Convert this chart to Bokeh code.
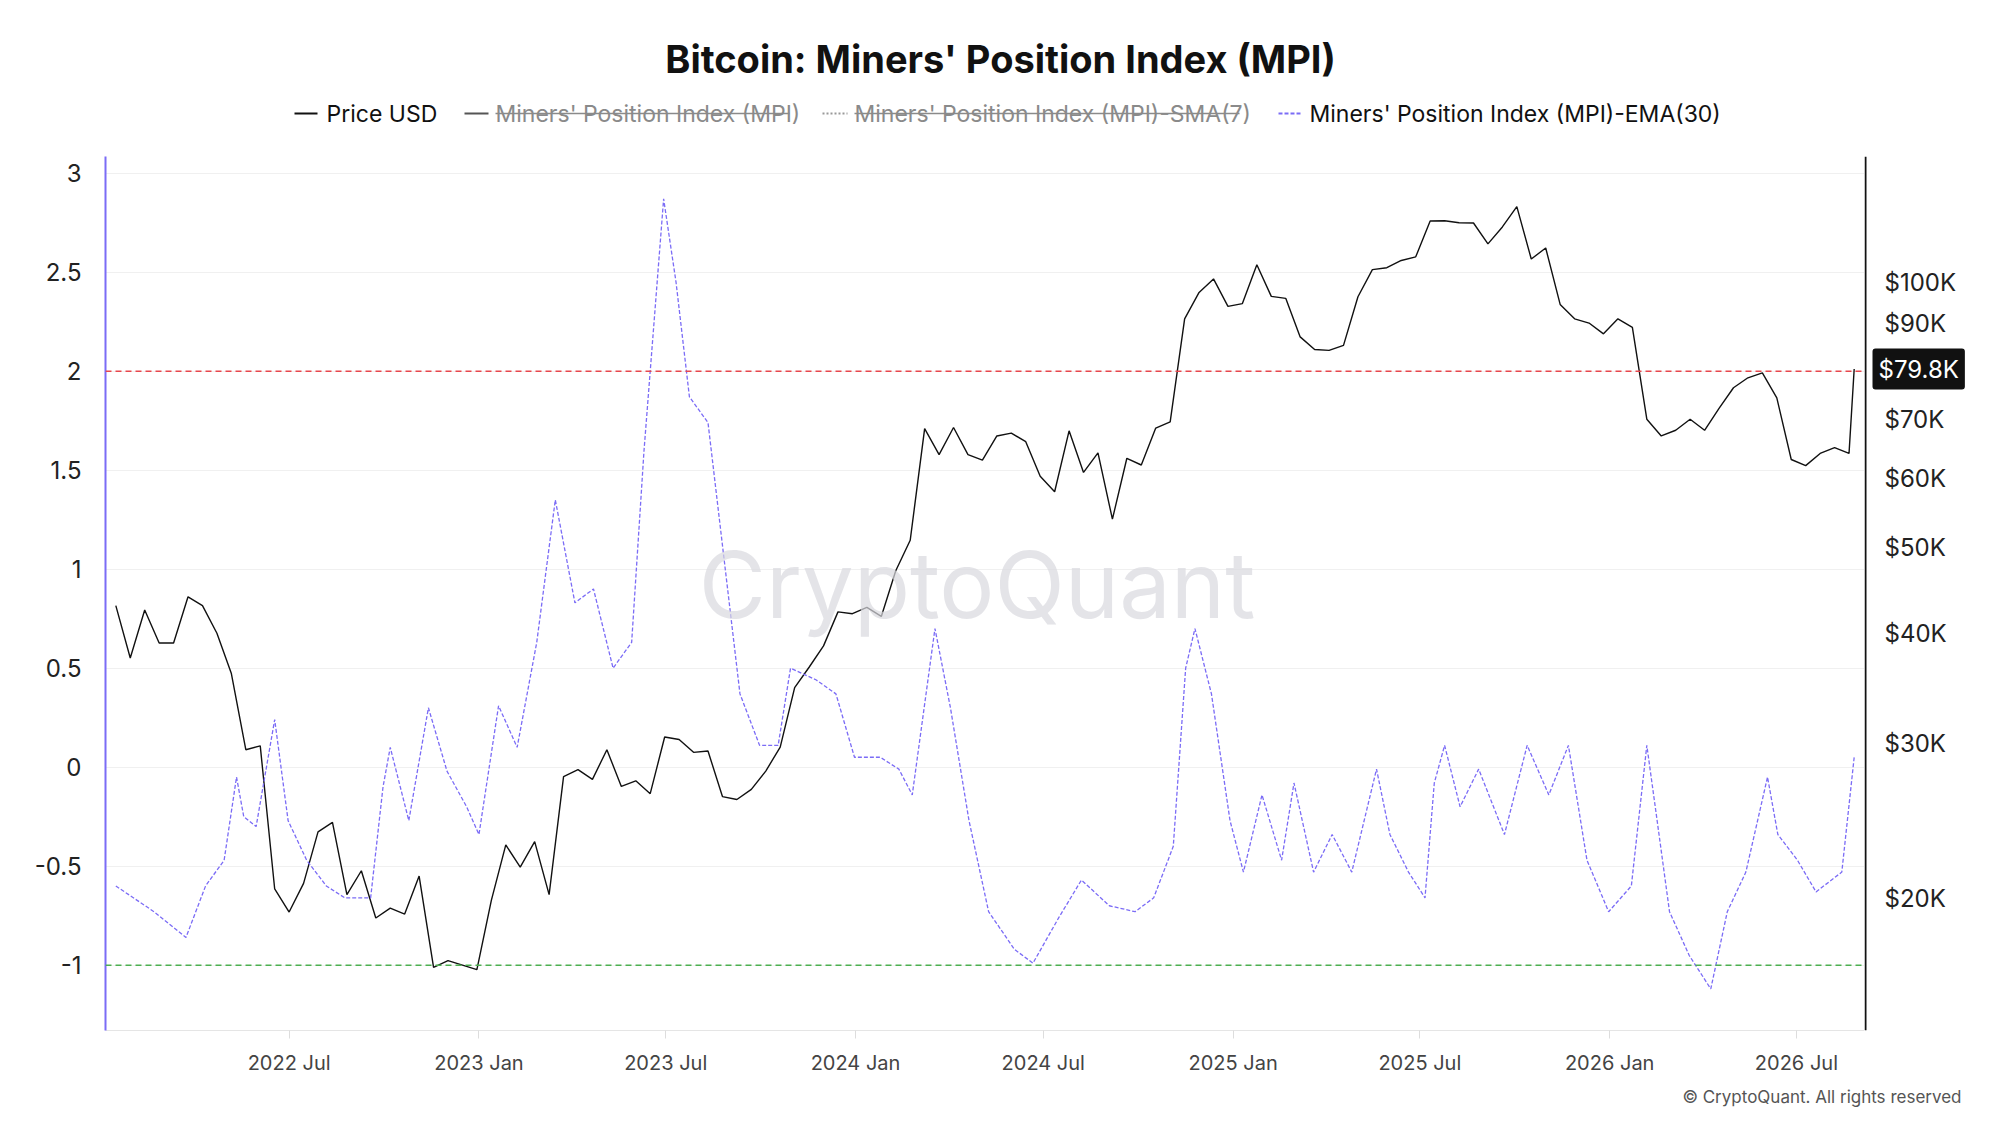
import pandas as pd
from bokeh.plotting import figure
from bokeh.layouts import column, row
from bokeh.models import (Range1d, LogScale, FixedTicker, Span, Label, CustomJSTickFormatter)
from bokeh.core.properties import value
from bokeh.embed import file_html
from bokeh.resources import INLINE

price_dates = pd.date_range("2022-01-14", periods=124, freq="14D")
price_k = [43, 37.5, 42.5, 39, 39, 44, 43, 40, 36, 29.5, 29.8, 20.5, 19.3, 20.8, 23.8, 24.4, 20.2, 21.5, 19, 19.5,
           19.2, 21.2, 16.7, 17, 16.8, 16.6, 19.9, 23, 21.7, 23.2, 20.2, 27.5, 28, 27.3, 29.5, 26.8, 27.2, 26.3, 30.5, 30.3,
           29.3, 29.4, 26.1, 25.9, 26.6, 27.9, 29.7, 34.7, 36.6, 38.7, 42.3, 42.1, 42.8, 41.8, 47.1, 51, 68.3, 63.8, 68.5, 63.8,
           62.9, 67, 67.5, 66, 60.3, 57.9, 67.9, 60.9, 64.1, 53.9, 63.2, 62.1, 68.4, 69.5, 91, 97.5, 101, 94, 94.7, 104.8,
           96.5, 96, 86.8, 84, 83.8, 84.9, 96.4, 103.5, 104, 106, 107, 117.5, 117.6, 117, 116.9, 110.7, 115.7, 122, 106.4, 109.5,
           94.5, 91, 90, 87.5, 91, 89, 70, 67, 68, 70, 68, 72, 76, 78, 79, 74, 63, 62, 64, 65, 64, 79.8]
price_dates = list(price_dates[:len(price_k) - 1]) + [pd.Timestamp("2026-08-26")]
price_usd = [v * 1000 for v in price_k]

ema_dates = pd.to_datetime([
    "2022-01-14", "2022-02-20", "2022-03-23", "2022-04-11", "2022-04-29", "2022-05-11", "2022-05-18", "2022-05-30",
    "2022-06-17", "2022-06-30", "2022-07-18", "2022-08-06", "2022-08-24", "2022-09-18", "2022-09-30", "2022-10-07",
    "2022-10-25", "2022-11-13", "2022-12-01", "2022-12-20", "2023-01-01", "2023-01-20", "2023-02-07", "2023-02-26",
    "2023-03-16", "2023-04-04", "2023-04-22", "2023-05-11", "2023-05-29", "2023-06-10", "2023-06-19", "2023-06-29",
    "2023-07-11", "2023-07-24", "2023-08-11", "2023-08-30", "2023-09-11", "2023-09-30", "2023-10-18", "2023-10-30",
    "2023-11-24", "2023-12-13", "2023-12-31", "2024-01-25", "2024-02-12", "2024-02-25", "2024-03-18", "2024-04-02",
    "2024-04-20", "2024-05-09", "2024-06-03", "2024-06-21", "2024-07-16", "2024-08-07", "2024-09-03", "2024-09-28",
    "2024-10-16", "2024-11-04", "2024-11-16", "2024-11-25", "2024-12-11", "2024-12-29", "2025-01-11", "2025-01-29",
    "2025-02-17", "2025-03-01", "2025-03-20", "2025-04-07", "2025-04-26", "2025-05-20", "2025-06-02", "2025-06-20",
    "2025-07-06", "2025-07-15", "2025-07-25", "2025-08-09", "2025-08-27", "2025-09-21", "2025-10-13", "2025-11-03",
    "2025-11-22", "2025-12-10", "2025-12-31", "2026-01-22", "2026-02-06", "2026-02-16", "2026-02-28", "2026-03-19",
    "2026-04-09", "2026-04-25", "2026-05-13", "2026-06-03", "2026-06-13", "2026-07-02", "2026-07-20", "2026-08-14",
    "2026-08-26"])
ema30 = [-0.6, -0.73, -0.86, -0.6, -0.47, -0.05, -0.25, -0.3, 0.24, -0.27, -0.47, -0.6, -0.66, -0.66, -0.1, 0.1,
         -0.27, 0.3, -0.02, -0.2, -0.34, 0.31, 0.1, 0.63, 1.35, 0.83, 0.9, 0.5, 0.63, 1.6, 2.2, 2.87,
         2.45, 1.87, 1.74, 0.9, 0.37, 0.11, 0.11, 0.5, 0.44, 0.37, 0.05, 0.05, -0.01, -0.14, 0.7, 0.3,
         -0.27, -0.73, -0.92, -0.99, -0.76, -0.57, -0.7, -0.73, -0.66, -0.4, 0.5, 0.7, 0.37, -0.27, -0.53, -0.14,
         -0.47, -0.08, -0.53, -0.34, -0.53, -0.01, -0.34, -0.53, -0.66, -0.08, 0.11, -0.2, -0.01, -0.34, 0.11, -0.14,
         0.11, -0.47, -0.73, -0.6, 0.11, -0.27, -0.73, -0.95, -1.12, -0.73, -0.53, -0.05, -0.34, -0.47, -0.63, -0.53,
         0.05]

left_ticks = [-1, -0.5, 0, 0.5, 1, 1.5, 2, 2.5, 3]
price_ticks = [20000, 30000, 40000, 50000, 60000, 70000, 90000, 100000]
price_tick_labels = ["$20K", "$30K", "$40K", "$50K", "$60K", "$70K", "$90K", "$100K"]
last_price_label = "$79.8K"
x_tick_dates = ["2022-07-01", "2023-01-01", "2023-07-01", "2024-01-01", "2024-07-01", "2025-01-01",
                "2025-07-01", "2026-01-01", "2026-07-01"]
legend_labels = ["Price USD", "Miners' Position Index (MPI)", "Miners' Position Index (MPI)-SMA(7)",
                 "Miners' Position Index (MPI)-EMA(30)"]
footer_text = "© CryptoQuant. All rights reserved"

FONT = "Inter"
FW, FH = 1759, 874
TOP, BOT = 6, 55
Y_RANGE = (-1.33, 3.084)
P_RANGE = (14160, 139100)
SW = 120
HW, HH = 105 + FW + SW, 150


def blank(w, h, xr, yr):
    f = figure(frame_width=w, frame_height=h, x_range=Range1d(*xr), y_range=Range1d(*yr),
               output_backend="svg", toolbar_location=None, min_border=0)
    f.axis.visible = False
    f.grid.visible = False
    f.outline_line_color = None
    return f


# ---------- header (title + legend) ----------
hdr = blank(HW, HH, (0, HW), (0, HH))
hdr.text([1000], [HH - 58], text=["Bitcoin: Miners' Position Index (MPI)"], text_font=value(FONT),
         text_font_size="38px", text_font_style="bold", text_color="#111111", text_align="center",
         text_baseline="middle")
ly = HH - 113
glyph_x = [(294, 317), (464, 488), (822, 847), (1278, 1302)]
text_x = [326, 495, 854, 1309]
text_w = [0, 294, 385, 0]
g_color = ["#111111", "#555555", "#999999", "#7b6cf6"]
g_dash = ["solid", "solid", "2 2", "4 2"]
t_color = ["#111111", "#8a8a8a", "#8a8a8a", "#111111"]
for i, lab in enumerate(legend_labels):
    hdr.line(list(glyph_x[i]), [ly, ly], line_color=g_color[i], line_width=2, line_dash=g_dash[i])
    hdr.text([text_x[i]], [ly], text=[lab], text_font=value(FONT), text_font_size="23px",
             text_color=t_color[i], text_baseline="middle")
    if text_w[i]:
        hdr.line([text_x[i], text_x[i] + text_w[i]], [ly, ly], line_color="#8a8a8a", line_width=1.5)

# ---------- main plot ----------
p = figure(frame_width=FW, frame_height=FH, x_axis_type="datetime", output_backend="svg", toolbar_location=None,
           x_range=Range1d(pd.Timestamp("2022-01-04"), pd.Timestamp("2026-09-05")),
           y_range=Range1d(*Y_RANGE), min_border_left=105, min_border_right=0,
           min_border_top=TOP, min_border_bottom=BOT)
p.extra_y_ranges = {"price": Range1d(*P_RANGE)}
p.extra_y_scales = {"price": LogScale()}
p.outline_line_color = None

ax = p.yaxis[0]
ax.ticker = FixedTicker(ticks=left_ticks)
ax.formatter = CustomJSTickFormatter(code="return tick.toString();")
ax.axis_line_color = "#7b6cf6"
ax.axis_line_width = 2
ax.major_tick_line_color = None
ax.minor_tick_line_color = None
ax.major_label_text_font = FONT
ax.major_label_text_font_size = "24px"
ax.major_label_text_color = "#222222"
ax.major_label_standoff = 18

xa = p.xaxis[0]
xa.ticker = FixedTicker(ticks=[pd.Timestamp(d).value / 1e6 for d in x_tick_dates])
xa.formatter = CustomJSTickFormatter(code="""
const d = new Date(tick); const m = ['Jan','Feb','Mar','Apr','May','Jun','Jul','Aug','Sep','Oct','Nov','Dec'];
return d.getUTCFullYear() + ' ' + m[d.getUTCMonth()];""")
xa.axis_line_color = "#e5e5e5"
xa.major_tick_line_color = "#dddddd"
xa.major_tick_out = 8
xa.major_tick_in = 0
xa.minor_tick_line_color = None
xa.major_label_text_font = FONT
xa.major_label_text_font_size = "20px"
xa.major_label_text_color = "#444444"
xa.major_label_standoff = 12

p.xgrid.grid_line_color = None
p.ygrid.grid_line_color = "#f0f0f0"

p.add_layout(Span(location=2, dimension="width", line_color="#e8474c", line_dash="6 4", line_width=1.5))
p.add_layout(Span(location=-1, dimension="width", line_color="#4caf50", line_dash="6 4", line_width=1.5))

p.add_layout(Label(x=FW / 2 - 8, y=446, x_units="screen", y_units="screen", text="CryptoQuant", text_font=FONT,
                   text_font_size="92px", text_color="#d8d8de", text_alpha=0.7, text_align="center",
                   text_baseline="middle"))

p.line(price_dates, price_usd, y_range_name="price", line_color="#111111", line_width=1.4)
p.line(ema_dates, ema30, line_color="#7b6cf6", line_width=1.3, line_dash="4 2")

# ---------- right price axis panel ----------
side = figure(frame_width=SW, frame_height=FH, x_range=Range1d(0, SW), y_range=Range1d(*P_RANGE),
              y_axis_type="log", output_backend="svg", toolbar_location=None,
              min_border_left=0, min_border_right=0, min_border_top=TOP, min_border_bottom=BOT)
side.axis.visible = False
side.grid.visible = False
side.outline_line_color = None
side.add_layout(Span(location=1, dimension="height", line_color="#111111", line_width=2))
side.text([20] * len(price_ticks), price_ticks, text=price_tick_labels, text_font=value(FONT),
          text_font_size="24px", text_color="#222222", text_baseline="middle")
side.add_layout(Label(x=8, y=price_usd[-1], text=last_price_label, text_font=FONT, text_font_size="24px",
                      text_color="white", text_baseline="middle", background_fill_color="#111111",
                      padding=6, border_radius=3))

# ---------- footer ----------
FTH = 22
ftr = blank(HW, FTH, (0, HW), (0, FTH))
ftr.text([1961], [FTH / 2], text=[footer_text], text_font=value(FONT),
         text_font_size="17px", text_color="#555555", text_align="right", text_baseline="middle")

final = column(hdr, row(p, side, spacing=0), ftr, spacing=0)
open("out.html", "w").write(file_html(final, INLINE))
